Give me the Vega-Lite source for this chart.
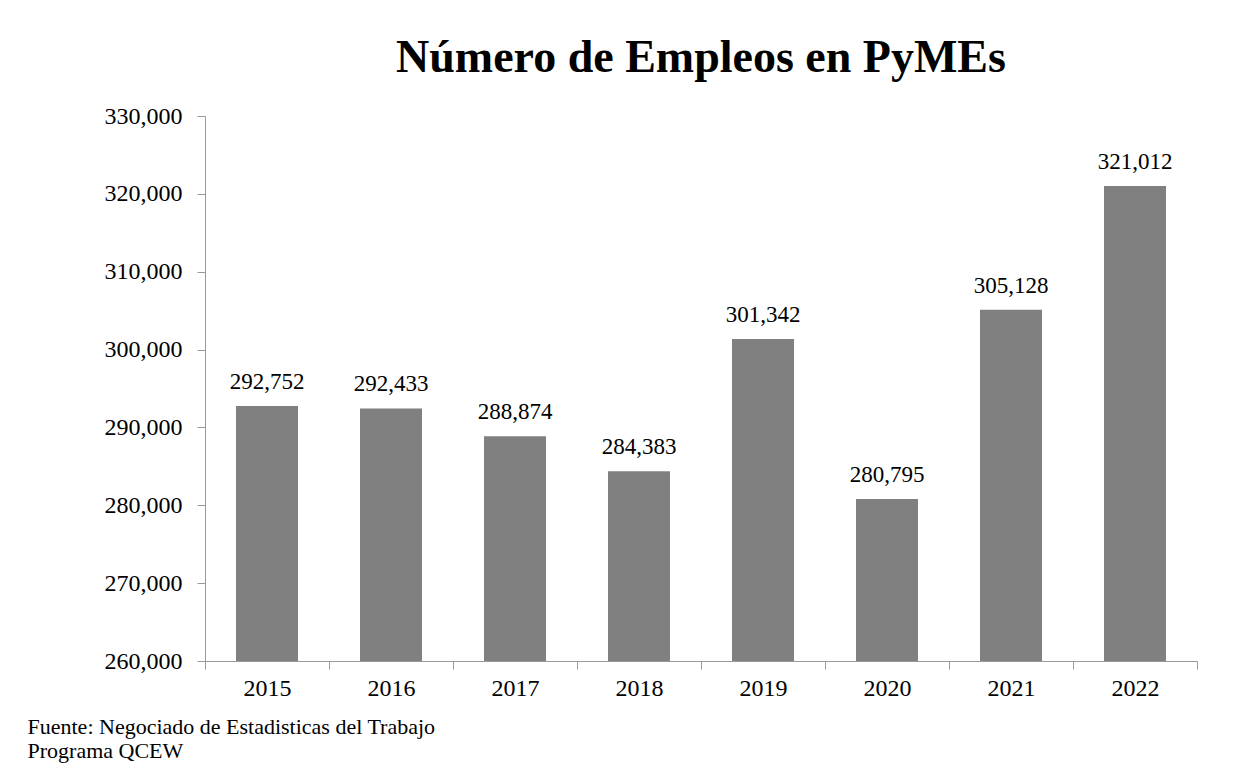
{
  "$schema": "https://vega.github.io/schema/vega-lite/v6.json",
  "width": 992,
  "height": 545,
  "autosize": {"type": "none"},
  "padding": {"left": 205, "top": 116, "right": 39, "bottom": 108},
  "background": "white",
  "title": {
    "text": "Número de Empleos en PyMEs",
    "font": "Liberation Serif",
    "fontSize": 46,
    "fontWeight": "bold",
    "color": "black",
    "anchor": "middle",
    "offset": 22
  },
  "data": {
    "values": [
      {"year": "2015", "jobs": 292752},
      {"year": "2016", "jobs": 292433},
      {"year": "2017", "jobs": 288874},
      {"year": "2018", "jobs": 284383},
      {"year": "2019", "jobs": 301342},
      {"year": "2020", "jobs": 280795},
      {"year": "2021", "jobs": 305128},
      {"year": "2022", "jobs": 321012}
    ]
  },
  "encoding": {
    "x": {
      "field": "year",
      "type": "nominal",
      "scale": {"paddingInner": 0, "paddingOuter": 0},
      "axis": {
        "title": ["Fuente: Negociado  de Estadisticas del Trabajo", "Programa  QCEW"],
        "titleFont": "Liberation Serif",
        "titleFontSize": 22,
        "titleFontWeight": "normal",
        "titleColor": "black",
        "titleAnchor": "start",
        "titleAlign": "left",
        "titleBaseline": "top",
        "titleLineHeight": 24,
        "titleX": -178,
        "titleY": 55,
        "labelAngle": 0,
        "labelFont": "Liberation Serif",
        "labelFontSize": 24,
        "labelColor": "black",
        "labelPadding": 7,
        "tickBand": "extent",
        "tickSize": 8,
        "tickColor": "#999999",
        "domainColor": "#999999",
        "grid": false
      }
    },
    "y": {
      "field": "jobs",
      "type": "quantitative",
      "scale": {"domain": [260000, 330000], "nice": false, "zero": false},
      "axis": {
        "title": null,
        "values": [260000, 270000, 280000, 290000, 300000, 310000, 320000, 330000],
        "format": ",d",
        "labelFont": "Liberation Serif",
        "labelFontSize": 24,
        "labelColor": "black",
        "labelPadding": 15,
        "tickSize": 8,
        "tickColor": "#999999",
        "domainColor": "#999999",
        "grid": false
      }
    }
  },
  "layer": [
    {"mark": {"type": "bar", "color": "#808080", "clip": true, "width": {"band": 0.5}}},
    {
      "mark": {
        "type": "text",
        "font": "Liberation Serif",
        "fontSize": 23,
        "color": "black",
        "baseline": "bottom",
        "dy": -12
      },
      "encoding": {"text": {"field": "jobs", "type": "quantitative", "format": ",d"}}
    }
  ],
  "config": {"view": {"stroke": null}}
}
